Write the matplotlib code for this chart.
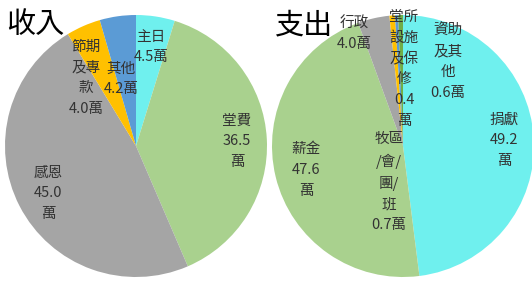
import matplotlib
matplotlib.use("Agg")
import matplotlib.pyplot as plt

plt.rcParams['font.family'] = ['Noto Sans CJK TC', 'DejaVu Sans']

# ---- data ----
income_labels = ["主日", "堂費", "感恩", "節期及專款", "其他"]
income_values = [4.5, 36.5, 45.0, 4.0, 4.2]
income_text = ["主日\n4.5萬", "堂費\n36.5\n萬", "感恩\n45.0\n萬", "節期\n及專\n款\n4.0萬", "其他\n4.2萬"]

expense_labels = ["捐獻", "薪金", "行政", "牧區/會/團/班", "堂所設施及保修", "資助及其他"]
expense_values = [49.2, 47.6, 4.0, 0.7, 0.4, 0.6]
expense_text = ["捐獻\n49.2\n萬", "薪金\n47.6\n萬", "行政\n4.0萬", "牧區\n/會/\n團/\n班\n0.7萬",
                "堂所\n設施\n及保\n修\n0.4\n萬", "資助\n及其\n他\n0.6萬"]

# ---- style ----
income_colors = ["#6FF0EE", "#A9D18E", "#A5A5A5", "#FFC000", "#5B9BD5"]
expense_colors = ["#6FF0EE", "#A9D18E", "#A5A5A5", "#FFC000", "#5B9BD5", "#70AD47"]
income_label_pos = [(0.115, 0.756), (0.771, 0.038), (-0.672, -0.359), (-0.382, 0.519), (-0.115, 0.511)]
expense_label_pos = [(0.771, 0.046), (-0.740, -0.183), (-0.374, 0.855), (-0.107, -0.275),
                     (0.008, 0.588), (0.344, 0.641)]

W, H = 532, 281
fig = plt.figure(figsize=(W / 100, H / 100), dpi=100)


def make_pie(cx, cy, r, values, colors, texts, positions, title, title_x):
    ax = fig.add_axes([(cx - r) / W, (H - cy - r) / H, 2 * r / W, 2 * r / H])
    ax.pie(values, colors=colors, startangle=90, counterclock=False, radius=1,
           wedgeprops=dict(linewidth=0))
    ax.set_xlim(-1, 1)
    ax.set_ylim(-1, 1)
    ax.set_aspect('auto')
    ax.axis('off')
    for t, (x, y) in zip(texts, positions):
        ax.text(x, y, t, ha='center', va='center', fontsize=10.5, color='#333333',
                linespacing=1.6)
    fig.text(title_x / W, 1 - 25 / H, title, ha='left', va='center', fontsize=21, color='black')
    return ax


make_pie(136, 146, 131, income_values, income_colors, income_text, income_label_pos, "收入", 6)
make_pie(403, 146, 131, expense_values, expense_colors, expense_text, expense_label_pos, "支出", 275)

fig.savefig("out.png", dpi=100, facecolor='white')
